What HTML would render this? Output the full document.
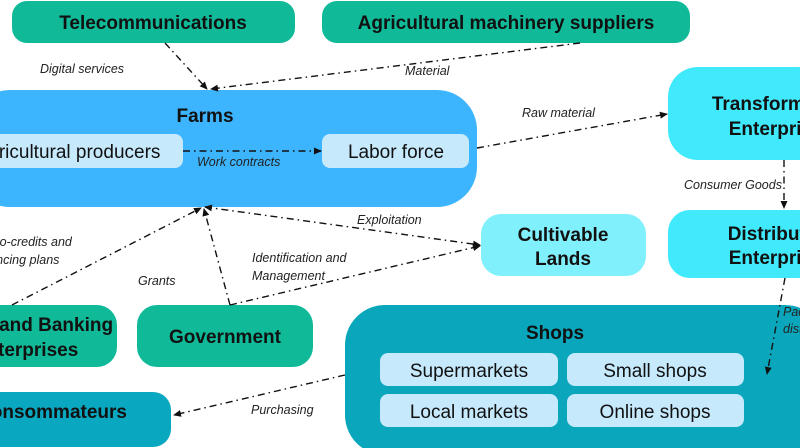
<!DOCTYPE html>
<html><head><style>body{margin:0;width:800px;height:448px;overflow:hidden;background:#fff}svg{display:block}</style></head><body>
<svg width="800" height="448" xmlns="http://www.w3.org/2000/svg" font-family="'Liberation Sans',sans-serif">
<defs><marker id="a" markerWidth="8" markerHeight="8" refX="7" refY="4" orient="auto" markerUnits="userSpaceOnUse"><path d="M0,0.5L8,4L0,7.5z" fill="#111"/></marker>
<marker id="s" markerWidth="8" markerHeight="8" refX="1" refY="4" orient="auto" markerUnits="userSpaceOnUse"><path d="M8,0.5L0,4L8,7.5z" fill="#111"/></marker></defs>
<g fill="#10ba99">
<rect x="12" y="1" width="283" height="42" rx="15"/>
<rect x="322" y="1" width="368" height="42" rx="15"/>
<rect x="-30" y="305" width="147" height="62" rx="20"/>
<rect x="137" y="305" width="176" height="62" rx="20"/>
</g>
<rect x="-30" y="90" width="507" height="117" rx="40" fill="#3db5fe"/>
<rect x="-30" y="134" width="213" height="34" rx="8" fill="#c6e9fc"/>
<rect x="322" y="134" width="147" height="34" rx="8" fill="#c6e9fc"/>
<rect x="668" y="67" width="160" height="93" rx="30" fill="#40e9fc"/>
<rect x="668" y="210" width="160" height="68" rx="22" fill="#40e9fc"/>
<rect x="481" y="214" width="165" height="62" rx="20" fill="#80f1fc"/>
<rect x="345" y="305" width="480" height="150" rx="40" fill="#09a6bc"/>
<rect x="-30" y="392" width="201" height="55" rx="18" fill="#0aa8c0"/>
<g fill="#c6e9fc"><rect x="380" y="353" width="178" height="33" rx="8"/><rect x="567" y="353" width="177" height="33" rx="8"/><rect x="380" y="394" width="178" height="33" rx="8"/><rect x="567" y="394" width="177" height="33" rx="8"/></g>
<g font-weight="bold" font-size="19" fill="#111" text-anchor="middle">
<text x="153" y="29">Telecommunications</text>
<text x="506" y="29">Agricultural machinery suppliers</text>
<text x="205" y="122">Farms</text>
<text x="781" y="110">Transformation</text><text x="781" y="135">Enterprises</text>
<text x="781" y="240">Distribution</text><text x="781" y="264">Enterprises</text>
<text x="563" y="241">Cultivable</text><text x="563" y="265">Lands</text>
<text x="26" y="331">Credit and Banking</text><text x="26" y="356">Enterprises</text>
<text x="225" y="343">Government</text>
<text x="555" y="339">Shops</text>
<text x="52" y="418">Consommateurs</text>
</g>
<g font-size="19" fill="#111" text-anchor="middle">
<text x="68" y="158">Agricultural producers</text>
<text x="396" y="158">Labor force</text>
<text x="469" y="377">Supermarkets</text><text x="655" y="377">Small shops</text>
<text x="469" y="418">Local markets</text><text x="655" y="418">Online shops</text>
</g>
<g font-size="12.5" font-style="italic" fill="#222">
<text x="40" y="73">Digital services</text>
<text x="405" y="75">Material</text>
<text x="522" y="117">Raw material</text>
<text x="197" y="166">Work contracts</text>
<text x="684" y="189">Consumer Goods</text>
<text x="783" y="316">Packaging</text><text x="783" y="333">distribution</text>
<text x="357" y="224">Exploitation</text>
<text x="252" y="262">Identification and</text><text x="252" y="280">Management</text>
<text x="138" y="285">Grants</text>
<text x="-24" y="246">Micro-credits and</text><text x="-24" y="264">financing plans</text>
<text x="251" y="414">Purchasing</text>
</g>
<g stroke="#111" stroke-width="1.4" fill="none" stroke-dasharray="7,4,1.5,4" marker-end="url(#a)">
<path d="M165,43L207,89"/>
<path d="M580,43L211,89"/>
<path d="M477,148L667,114"/>
<path d="M183,151L321,151"/>
<path d="M784,160L784,208"/>
<path d="M785,278L767,374"/>
<path d="M205,207L480,245" marker-start="url(#s)"/>
<path d="M230,305L204,209"/>
<path d="M230,305L480,246"/>
<path d="M12,305L201,208"/>
<path d="M345,375L174,415"/>
</g>
</svg>
</body></html>
